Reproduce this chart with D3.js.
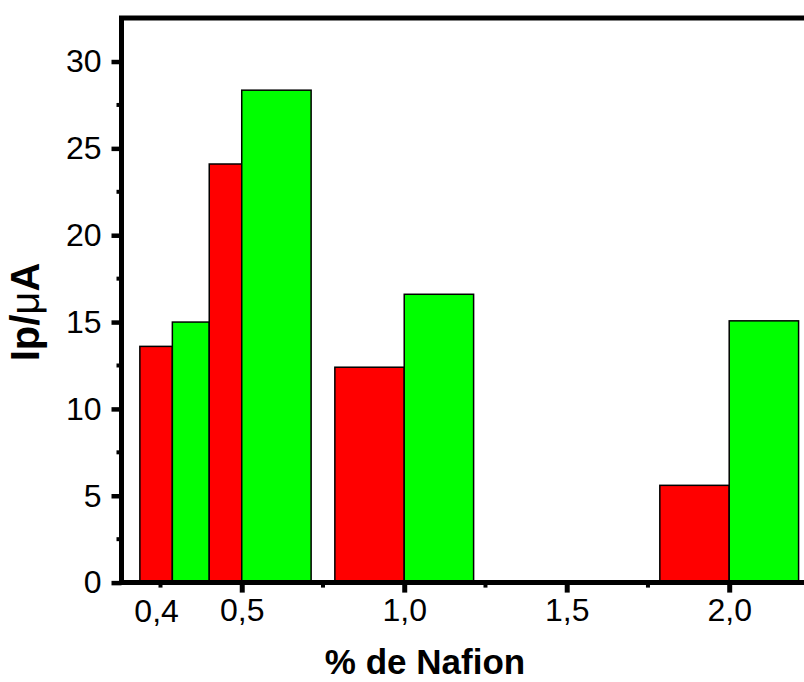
<!DOCTYPE html>
<html>
<head>
<meta charset="utf-8">
<script src="https://cdn.jsdelivr.net/npm/d3@7"></script>
<style>
  body { margin: 0; background: #fff; }
  text { font-family: Arial, "Liberation Sans", sans-serif; fill: #000; }
</style>
</head>
<body>
<script>
// % Nafion groups (first group sits left of the 0,5 tick in the original plot)
const groupLabels = ['0,4', '0,5', '1,0', '2,0'];
const groupX = [0.2865, 0.5, 1.0, 2.0];      // where the red/green pair meets
const redWidth = [0.10, 0.10, 0.2135, 0.2135];
const greenWidth = [0.1135, 0.2135, 0.2135, 0.2135];
const redValues = [13.6, 24.1, 12.4, 5.6];
const greenValues = [15.0, 28.35, 16.6, 15.07];

const yMajor = [0, 5, 10, 15, 20, 25, 30];
const yMinor = [2.5, 7.5, 12.5, 17.5, 22.5, 27.5];
const xMajor = [0.5, 1.0, 1.5, 2.0];
const xMinor = [0.25, 0.75, 1.25, 1.75];
const extraLabel = { value: 0.238, text: '0,4' };

const width = 804;
const height = 682;

const x = d3.scaleLinear().domain([0.13, 2.3]).range([121.5, 826.7]);
const y = d3.scaleLinear().domain([0, 32.5]).range([582.6, 18.1]);

const svg = d3.select('body').append('svg')
  .attr('width', width)
  .attr('height', height);

const bars = [];
groupX.forEach((gx, i) => {
  bars.push({ x0: gx - redWidth[i], x1: gx, v: redValues[i], color: '#ff0000' });
  bars.push({ x0: gx, x1: gx + greenWidth[i], v: greenValues[i], color: '#00ff00' });
});

svg.append('g').selectAll('rect')
  .data(bars)
  .enter()
  .append('rect')
  .attr('x', (d) => x(d.x0))
  .attr('y', (d) => y(d.v))
  .attr('width', (d) => x(d.x1) - x(d.x0))
  .attr('height', (d) => y(0) - y(d.v))
  .style('fill', (d) => d.color)
  .style('stroke', '#000')
  .style('stroke-width', 1.5);

// frame (right side runs off the canvas like the original)
const x0 = x.range()[0];
const x1 = x.range()[1];
const y0 = y.range()[0];
const y1 = y.range()[1];
svg.append('path')
  .attr('d', `M${x1},${y0}H${x0}V${y1}H${x1}V${y0}`)
  .style('fill', 'none')
  .style('stroke', '#000')
  .style('stroke-width', 5);

// y axis
const yAxis = d3.axisLeft(y).tickValues(yMajor).tickSize(10).tickPadding(10)
  .tickFormat(d3.format('d'));
const gy = svg.append('g').attr('transform', `translate(${x0},0)`).call(yAxis);
gy.select('.domain').remove();
gy.selectAll('.tick line').style('stroke-width', 4.5);
gy.selectAll('.tick text').style('font-size', '32px');

svg.append('g').selectAll('line')
  .data(yMinor)
  .enter()
  .append('line')
  .attr('x1', x0 - 5)
  .attr('x2', x0)
  .attr('y1', (d) => y(d))
  .attr('y2', (d) => y(d))
  .style('stroke', '#000')
  .style('stroke-width', 4);

// x axis
const xAxis = d3.axisBottom(x).tickValues(xMajor).tickSize(10).tickPadding(6)
  .tickFormat((d) => d3.format('.1f')(d).replace('.', ','));
const gx = svg.append('g').attr('transform', `translate(0,${y0})`).call(xAxis);
gx.select('.domain').remove();
gx.selectAll('.tick line').style('stroke-width', 5);
gx.selectAll('.tick text').style('font-size', '32px');

svg.append('g').selectAll('line')
  .data(xMinor)
  .enter()
  .append('line')
  .attr('x1', (d) => x(d))
  .attr('x2', (d) => x(d))
  .attr('y1', y0)
  .attr('y2', y0 + 5)
  .style('stroke', '#000')
  .style('stroke-width', 4);

svg.append('text')
  .attr('x', x(extraLabel.value))
  .attr('y', y0 + 39)
  .attr('text-anchor', 'middle')
  .style('font-size', '32px')
  .text(extraLabel.text);

// titles
svg.append('text')
  .attr('x', 425)
  .attr('y', 674)
  .attr('text-anchor', 'middle')
  .style('font-size', '35px')
  .style('font-weight', 'bold')
  .text('% de Nafion');

const yt = svg.append('text')
  .attr('transform', 'translate(39,312) rotate(-90)')
  .attr('text-anchor', 'middle')
  .style('font-size', '40px')
  .style('font-weight', 'bold');
yt.append('tspan').text('Ip/');
yt.append('tspan').style('font-weight', 'normal').text('\u03bc');
yt.append('tspan').text('A');
</script>
</body>
</html>
